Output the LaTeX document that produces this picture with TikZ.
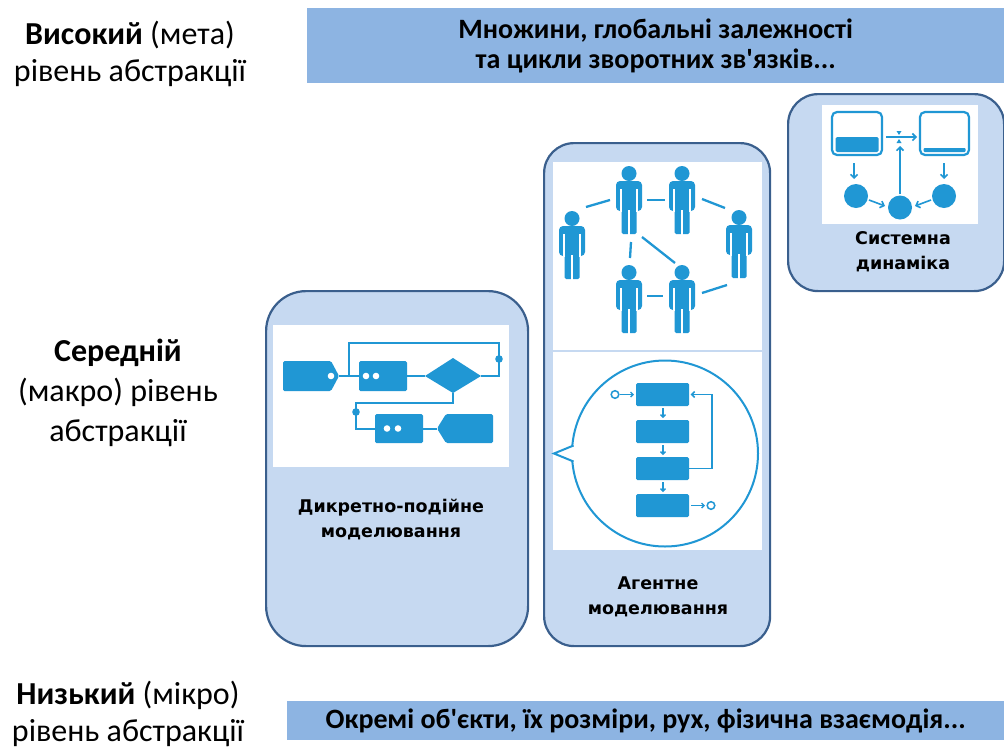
\documentclass[tikz,border=0pt]{standalone}
\usepackage{fontspec}
\setmainfont{Carlito}
\newfontfamily\capfamily{DejaVu Sans}
\usetikzlibrary{arrows.meta}

\definecolor{barblue}{HTML}{8DB4E2}
\definecolor{panelfill}{HTML}{C6D9F1}
\definecolor{paneledge}{HTML}{3A5F8D}
\definecolor{icon}{HTML}{2097D4}

\newcommand\lvlfont{\fontsize{32}{37}\selectfont}
\newcommand\midlvlfont{\fontsize{32}{40}\selectfont}
\newcommand\barfont{\bfseries\fontsize{28}{30}\selectfont}
\newcommand\capfont{\capfamily\bfseries\fontsize{17.5}{25}\selectfont}

\tikzset{
  bar/.style={fill=barblue, draw=none, inner sep=0pt, align=center, font=\barfont, anchor=north west},
  panel/.style={fill=panelfill, draw=paneledge, line width=2.2pt, inner sep=0pt, anchor=north west},
  picbox/.style={fill=white, draw=none, inner sep=0pt, anchor=north west},
  lvl/.style={align=center, font=\lvlfont},
  panelcap/.style={align=center, font=\capfont},
  ic/.style={draw=icon, line width=2pt},
  link/.style={draw=icon, line width=2.3pt},
  icarrow/.style={draw=icon, line width=1.6pt, -{Straight Barb[length=3.5pt,width=7pt]}},
  tinyarrow/.style={draw=icon, line width=1.3pt, -{Straight Barb[length=2.5pt,width=5pt]}},
  person/.pic={
    % head
    \fill[icon] (0,7.5) circle[radius=7.5pt];
    % shoulders and arms
    \fill[icon, rounded corners=4pt] (-13,45) -- (-13,15) -- (13,15) -- (13,45) -- cycle;
    % legs
    \fill[icon, rounded corners=1.5pt] (-7.5,38) -- (7.5,38) -- (7.5,68) -- (-7.5,68) -- cycle;
    % gaps between arms, torso and legs
    \draw[white, line width=1.3pt] (-8.1,23) -- (-8.1,46);
    \draw[white, line width=1.3pt] (8.1,23) -- (8.1,46);
    \draw[white, line width=1.6pt] (0,44) -- (0,69);
  },
}

\begin{document}
\begin{tikzpicture}[x=1pt,y=-1pt]
\useasboundingbox (0,0) rectangle (1004,753);

% level captions on the left
\node[lvl] (hi)  at (130,54)  {\textbf{Високий} (мета)\\рівень абстракції};
\node[lvl, font=\midlvlfont] (mid) at (118,393) {\textbf{Середній}\\(макро) рівень\\абстракції};
\node[lvl] (lo)  at (128,714) {\textbf{Низький} (мікро)\\рівень абстракції};

% top and bottom bars
\node[bar, minimum width=697pt, minimum height=75pt] (meta) at (307,8)
  {Множини, глобальні залежності\\та цикли зворотних зв\textquotesingle язків...};
\node[bar, minimum width=717pt, minimum height=39pt] (micro) at (287,701)
  {Окремі об\textquotesingle єкти, їх розміри, рух, фізична взаємодія...};

% method panels
\node[panel, minimum width=262pt, minimum height=355pt, rounded corners=40pt] (des) at (265,290) {};
\node[panel, minimum width=226pt, minimum height=503pt, rounded corners=30pt] (abm) at (543,142) {};
\node[panel, minimum width=216pt, minimum height=197pt, rounded corners=30pt] (sd)  at (787,93)  {};

% white picture areas
\node[picbox, minimum width=236pt, minimum height=142pt] (desimg)   at (273,325) {};
\node[picbox, minimum width=209pt, minimum height=188pt] (netimg)   at (553,162) {};
\node[picbox, minimum width=209pt, minimum height=198pt] (stateimg) at (553,352) {};
\node[picbox, minimum width=156pt, minimum height=119pt] (sdimg)    at (822,105) {};

% panel captions
\node[panelcap] (descap) at (391,520) {Дикретно-подійне\\моделювання};
\node[panelcap] (abmcap) at (658,597) {Агентне\\моделювання};
\node[panelcap] (sdcap)  at (903,252) {Системна\\динаміка};

% ---- discrete-event process flow ----
\draw[ic] (339,376) -- (359,376);
\draw[ic] (349,376) -- (349,343) -- (499,343) -- (499,376) -- (481,376);
\draw[ic] (407,376) -- (425,376);
\draw[ic] (453,393) -- (453,403) -- (356,403) -- (356,429) -- (375,429);
\draw[ic] (423,428.5) -- (437,428.5);
\fill[icon] (499,359) circle[radius=3.8pt];
\fill[icon] (356,412) circle[radius=3.8pt];
\fill[icon, rounded corners=1.5pt] (283,361) -- (331,361) -- (339,376) -- (331,391) -- (283,391) -- cycle;
\fill[white] (331,376) circle[radius=3.3pt];
\fill[icon, rounded corners=1.5pt] (359,361) rectangle (407,391);
\fill[white] (366,376) circle[radius=3.3pt] (376,376) circle[radius=3.3pt];
\fill[icon] (425,376) -- (453,358) -- (481,376) -- (453,393) -- cycle;
\fill[icon, rounded corners=1.5pt] (375,414) rectangle (423,443);
\fill[white] (387,428.5) circle[radius=3.3pt] (398,428.5) circle[radius=3.3pt];
\fill[icon, rounded corners=1.5pt] (437,428.5) -- (446,414) -- (493,414) -- (493,443) -- (446,443) -- cycle;

% ---- agent network ----
\draw[link] (586,207) -- (610,200);
\draw[link] (647,200) -- (665,200);
\draw[link] (702,199) -- (725,208);
\draw[link] (631,242) -- (630,258);
\draw[link] (642,237) -- (675,263);
\draw[link] (647,296) -- (663,296);
\draw[link] (702,293) -- (727,285);
\pic at (572,211) {person};
\pic at (629,166) {person};
\pic at (682,166) {person};
\pic at (739,210) {person};
\pic at (629,265) {person};
\pic at (682,265) {person};

% ---- agent state chart in a speech bubble ----
\draw[ic] (665,453.5) circle[radius=93pt];
\fill[white] (570,446.5) rectangle (577,460.5);
\draw[ic, line join=miter] (573.5,445.5) -- (554,453.5) -- (573.5,461.5);
\fill[icon, rounded corners=1.5pt] (636,383) rectangle (689,406);
\fill[icon, rounded corners=1.5pt] (636,420) rectangle (689,443);
\fill[icon, rounded corners=1.5pt] (636,457) rectangle (689,480);
\fill[icon, rounded corners=1.5pt] (636,494) rectangle (689,517);
\draw[tinyarrow] (663,408) -- (663,418);
\draw[tinyarrow] (663,445) -- (663,455);
\draw[tinyarrow] (663,482) -- (663,492);
\draw[icon, line width=1.5pt] (615,394.5) circle[radius=3.8pt];
\draw[tinyarrow] (619.5,394.5) -- (634,394.5);
\draw[tinyarrow] (691,505.5) -- (705,505.5);
\draw[icon, line width=1.5pt] (711,505.5) circle[radius=3.8pt];
\draw[icon, line width=1.6pt, -{Straight Barb[length=3pt,width=6pt]}] (689,468.5) -- (712,468.5) -- (712,394.5) -- (690.5,394.5);

% ---- system dynamics stocks and flows ----
\draw[icon, line width=2.2pt, rounded corners=5pt] (832,112) rectangle (882,155);
\fill[icon, rounded corners=1.5pt] (835.5,137) rectangle (878.5,152);
\draw[icon, line width=2.2pt, rounded corners=5pt] (920,112) rectangle (969,155);
\fill[icon, rounded corners=1pt] (923.5,148) rectangle (965.5,152);
\draw[icarrow] (886,137) -- (917,137);
\fill[icon] (896.5,131) -- (901.5,131) -- (899,135) -- cycle;
\fill[icon] (896.5,143) -- (901.5,143) -- (899,139) -- cycle;
\fill[icon] (856,196) circle[radius=12pt];
\fill[icon] (944,196) circle[radius=12pt];
\fill[icon] (900,207.5) circle[radius=12pt];
\draw[icarrow] (854,163) -- (854,179);
\draw[icarrow] (944,163) -- (944,179);
\draw[icarrow] (869,200) -- (885,206);
\draw[icarrow] (931,200) -- (915,206);
\draw[icarrow] (900,194) -- (900,146);
\end{tikzpicture}
\end{document}
